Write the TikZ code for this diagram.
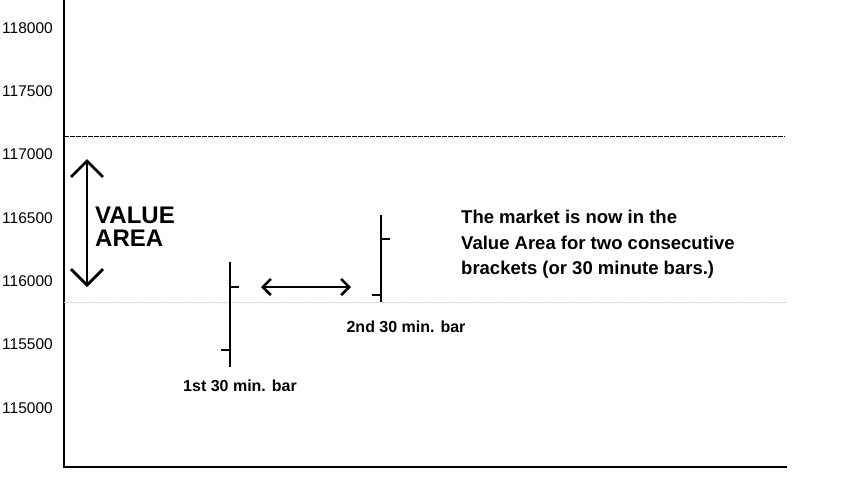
\documentclass[tikz,border=0pt]{standalone}
\usepackage{fontspec}
\setmainfont{Liberation Sans}
\usetikzlibrary{arrows.meta}
\begin{document}
\begin{tikzpicture}[x=1pt,y=-1pt,font=\fontsize{15.5}{17}\selectfont,
    vaarrow/.style={{Straight Barb[length=16pt,width=32pt]}-{Straight Barb[length=16pt,width=32pt]},line width=2.8pt},
    barrow/.style={{Straight Barb[length=8pt,width=16pt]}-{Straight Barb[length=8pt,width=16pt]},line width=2.6pt},
    barline/.style={line width=2.4pt},
    barlabel/.style={font=\bfseries\fontsize{16}{18}\selectfont}]
            \def\ox{64} \def\ex{787}
            \def\oy{467}
            \def\ohlc(#1,#2,#3,#4,#5){(#1,#2)--(#1,#3) (#1,#4)--+(9,0) (#1,#5)--+(-9,0)}
            \useasboundingbox (0,0) rectangle (849,488);
            \foreach \v [count=\k from 0] in {118000,117500,117000,116500,116000,115500,115000}
                \node[anchor=east,inner sep=0pt] (t\k) at (53,{28+63.3*\k}) {\v};
            %===========================================
            \draw[line width=1.6pt] (\ox,0) |- (\ex,\oy);
            \draw[dash pattern=on 5pt off 1pt,line width=0.7pt] (\ox,136)--(785,136);
            \draw[gray!35,dash pattern=on 1.5pt off 1.5pt,line width=0.9pt] (\ox,302)--(\ex,302);
            \coordinate (vtop) at (87,159); \coordinate (vbot) at (87,287);
            \draw[vaarrow] (vtop)--(vbot);
            \node[anchor=north west,inner sep=0pt,align=left,font=\bfseries\fontsize{24}{23}\selectfont] (va) at (95,207) {VALUE\\AREA};
            \draw[barline] \ohlc(230,262,367,287,350);
            \draw[barline] \ohlc(381,215,302,239,295);
            \coordinate (al) at (261,287); \coordinate (ar) at (351,287);
            \draw[barrow] (al)--(ar);
            \node[barlabel] (b1) at (240,386) {1st 30 min. bar};
            \node[barlabel] (b2) at (406,327) {2nd 30 min. bar};
            \node[anchor=north west,inner sep=0pt,align=left,font=\bfseries\fontsize{18.5}{25.5}\selectfont] (txt) at (461,210)
                {The market is now in the\\Value Area for two consecutive\\brackets (or 30 minute bars.)};
    \end{tikzpicture}
\end{document}
